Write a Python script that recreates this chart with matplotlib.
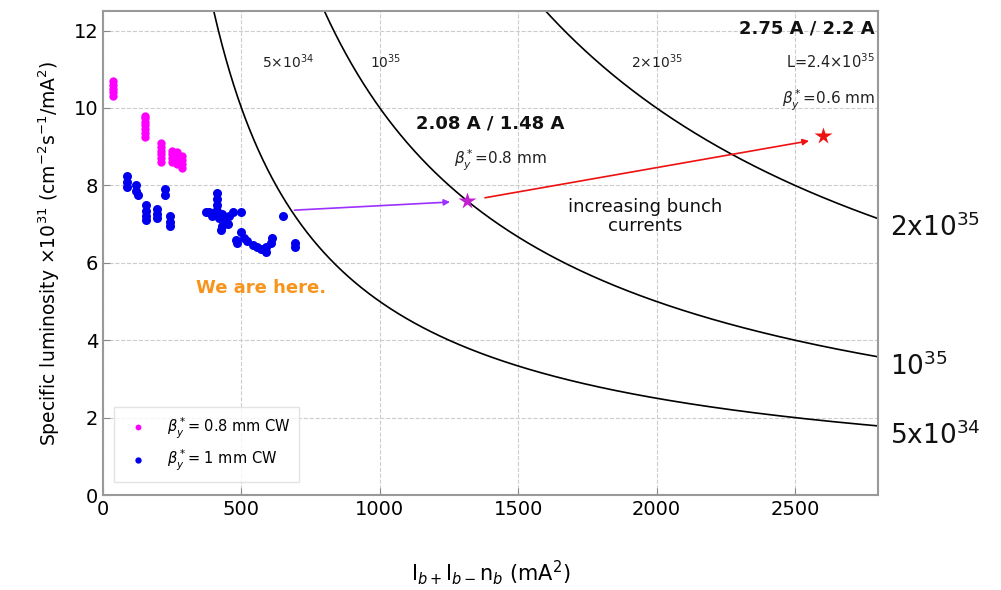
import numpy as np
import matplotlib
matplotlib.use("Agg")
from matplotlib import pyplot as plt
from matplotlib.transforms import blended_transform_factory

# measured specific luminosity, beta_y* = 0.8 mm (CW)
x_08 = [36, 36, 36, 36, 36,
        151, 151, 151, 151, 151, 151, 151,
        211, 211, 211, 211, 211, 211,
        248, 248, 248, 248,
        266, 266, 266, 266,
        285, 285, 285, 285]
y_08 = [10.3, 10.4, 10.5, 10.6, 10.7,
        9.25, 9.35, 9.45, 9.55, 9.65, 9.75, 9.8,
        8.6, 8.7, 8.8, 8.9, 9.0, 9.1,
        8.6, 8.7, 8.8, 8.9,
        8.55, 8.65, 8.75, 8.85,
        8.45, 8.55, 8.65, 8.75]

# measured specific luminosity, beta_y* = 1 mm (CW)
x_10 = [88, 88, 88, 120, 120, 125,
        155, 155, 155, 155, 196, 196, 196,
        224, 224, 242, 242, 242,
        372, 382, 395, 405, 413, 413, 413, 413,
        420, 430, 430, 425, 440, 456, 470, 500, 450,
        480, 485, 500, 510, 520, 540, 555, 570,
        590, 590, 608, 610, 650, 692, 692]
y_10 = [8.25, 8.1, 7.95, 8.0, 7.85, 7.75,
        7.5, 7.35, 7.2, 7.1, 7.4, 7.25, 7.15,
        7.9, 7.75, 7.2, 7.05, 6.95,
        7.3, 7.3, 7.2, 7.3, 7.8, 7.65, 7.5, 7.35,
        7.15, 7.25, 6.95, 6.85, 7.1, 7.2, 7.3, 7.3, 7.0,
        6.6, 6.5, 6.8, 6.65, 6.55, 6.45, 6.4, 6.35,
        6.28, 6.4, 6.5, 6.65, 7.2, 6.5, 6.42]

# target points (x, specific lumi)
x_star1, y_star1 = 1315, 7.6
x_star2, y_star2 = 2600, 9.27

# iso-luminosity lines [cm^-2 s^-1]
lumi_levels = [5e34, 1e35, 2e35]
lumi_inside = ["5$\\times$10$^{34}$", "10$^{35}$", "2$\\times$10$^{35}$"]
lumi_inside_x = [670, 1020, 2000]
lumi_outside = ["5x10$^{34}$", "10$^{35}$", "2x10$^{35}$"]

fig = plt.figure(figsize=(10.01, 5.90), dpi=100)
ax = fig.add_axes([0.103, 0.161, 0.774, 0.820])

xx = np.linspace(1, 2800, 1000)
for L in lumi_levels:
    ax.plot(xx, L / (1e31 * xx), color="black", lw=1.2, zorder=2)

ax.plot(x_08, y_08, "o", color="#ff00ff", ms=6, mec="none",
        label="$\\beta_y^*$= 0.8 mm CW", zorder=3)
ax.plot(x_10, y_10, "o", color="#0000ee", ms=6.5, mec="none",
        label="$\\beta_y^*$= 1 mm CW", zorder=3)

ax.plot(x_star1, y_star1, "*", color="#c020d0", ms=13, mec="none", zorder=4)
ax.plot(x_star2, y_star2, "*", color="#ee1111", ms=13, mec="none", zorder=4)

ax.annotate("", xy=(1254, 7.57), xytext=(692, 7.36),
            arrowprops=dict(arrowstyle="-|>", color="#9b30ff", lw=1.2,
                            mutation_scale=9, shrinkA=0, shrinkB=0))
ax.annotate("", xy=(2551, 9.15), xytext=(1380, 7.68),
            arrowprops=dict(arrowstyle="-|>", color="#ee1111", lw=1.2,
                            mutation_scale=9, shrinkA=0, shrinkB=0))

for lab, xl in zip(lumi_inside, lumi_inside_x):
    ax.text(xl, 11.2, lab, fontsize=10, ha="center", va="center", color="#222222")

ax.text(2790, 12.05, "2.75 A / 2.2 A", fontsize=13, ha="right", va="center",
        fontweight="semibold", color="#111111")
ax.text(2790, 11.2, "L=2.4$\\times$10$^{35}$", fontsize=10.5, ha="right",
        va="center", color="#222222")
ax.text(2790, 10.2, "$\\beta_y^*$=0.6 mm", fontsize=11, ha="right",
        va="center", color="#222222")
ax.text(1400, 9.6, "2.08 A / 1.48 A", fontsize=13, ha="center", va="center",
        fontweight="semibold", color="#111111")
ax.text(1435, 8.65, "$\\beta_y^*$=0.8 mm", fontsize=11, ha="center",
        va="center", color="#222222")
ax.text(1960, 7.2, "increasing bunch\ncurrents", fontsize=13, ha="center",
        va="center", linespacing=1.05, color="#111111")
ax.text(572, 5.35, "We are here.", fontsize=13, ha="center", va="center",
        fontweight="bold", color="#f7941d")

# labels for the iso-luminosity lines, just outside the right edge
trans = blended_transform_factory(ax.transAxes, ax.transData)
for lab, L in zip(lumi_outside, lumi_levels):
    yl = L / (1e31 * 2800)
    ax.text(1.016, yl - 0.25, lab, transform=trans, fontsize=19, ha="left",
            va="center", color="#111111", clip_on=False)

ax.set_xlim(0, 2800)
ax.set_ylim(0, 12.5)
ax.set_xticks([0, 500, 1000, 1500, 2000, 2500])
ax.set_yticks([0, 2, 4, 6, 8, 10, 12])
ax.tick_params(direction="in", labelsize=14, length=5, color="#888888")
ax.grid(True, ls="--", color="#cccccc", lw=0.8)
for s in ax.spines.values():
    s.set_color("#999999")
    s.set_linewidth(1.5)

ax.set_xlabel("I$_{b+}$I$_{b-}$n$_b$ (mA$^2$)", fontsize=15, labelpad=28)
ax.set_ylabel("Specific luminosity $\\times$10$^{31}$ (cm$^{-2}$s$^{-1}$/mA$^2$)",
              fontsize=13.5, labelpad=8)

ax.legend(loc="lower left", fontsize=10.5, markerscale=0.7, handletextpad=1.0,
          borderpad=0.6, labelspacing=0.5, fancybox=False, edgecolor="#dddddd",
          bbox_to_anchor=(0.005, 0.012))

fig.savefig("out.png", dpi=100)
